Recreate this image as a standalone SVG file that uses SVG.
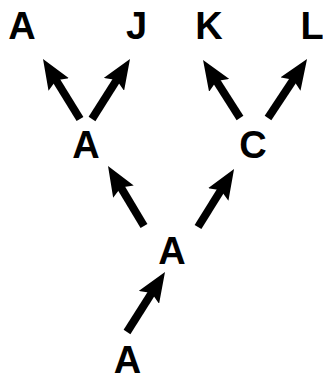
<svg xmlns="http://www.w3.org/2000/svg" width="323" height="375" viewBox="0 0 323 375">
<style>
.lbl{font-family:"Liberation Sans",Arial,sans-serif;font-weight:bold;font-size:38px;fill:#000;text-anchor:middle}
.arr{stroke:#000;stroke-width:8;fill:none;marker-end:url(#head)}
</style>
<defs>
<marker id="head" markerUnits="userSpaceOnUse" viewBox="0 0 30 24" markerWidth="30" markerHeight="24" refX="10" refY="12" orient="auto">
<path d="M0,0 L30,12 L0,24 L5,12 z" fill="#000"/>
</marker>
</defs>
<rect width="323" height="375" fill="#fff"/>
<g id="connectors">
<line class="arr" x1="80" y1="119" x2="53.5" y2="76"/>
<line class="arr" x1="92" y1="119" x2="119.3" y2="75.9"/>
<line class="arr" x1="240" y1="118" x2="213.8" y2="76.9"/>
<line class="arr" x1="268" y1="118" x2="296" y2="75.7"/>
<line class="arr" x1="144" y1="226" x2="118.3" y2="183.1"/>
<line class="arr" x1="198" y1="227" x2="223.5" y2="186"/>
<line class="arr" x1="127" y1="332" x2="154.3" y2="288.9"/>
</g>
<g id="n_top_A"><text class="lbl" x="22" y="39">A</text></g>
<g id="n_J"><text class="lbl" x="136.5" y="39">J</text></g>
<g id="n_K"><text class="lbl" x="209" y="39">K</text></g>
<g id="n_L"><text class="lbl" x="312" y="39">L</text></g>
<g id="n_mid_A"><text class="lbl" x="86" y="158">A</text></g>
<g id="n_C"><text class="lbl" x="253" y="158">C</text></g>
<g id="n_center_A"><text class="lbl" x="172" y="264">A</text></g>
<g id="n_bottom_A"><text class="lbl" x="127.5" y="373">A</text></g>
</svg>
